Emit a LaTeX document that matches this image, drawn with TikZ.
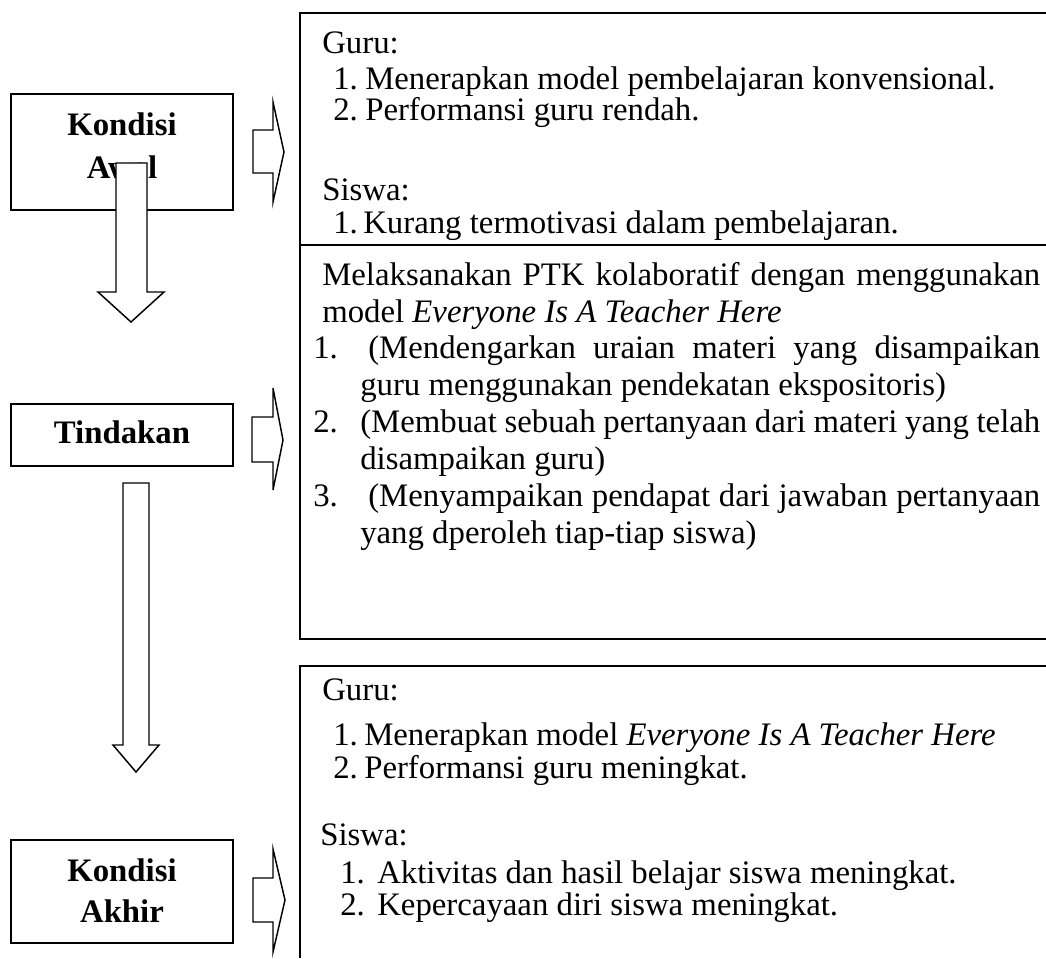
\documentclass[tikz,border=0pt]{standalone}
\usepackage{fontspec}
\setmainfont{Liberation Serif}
\newcommand{\fsz}{\fontsize{24.6}{28.3}\selectfont}
\begin{document}
\begin{tikzpicture}[x=0.75pt,y=-0.75pt,
  line/.style={line width=1.4pt},
  blockarrow/.style={draw, line width=1.1pt, fill=white, line join=miter},
  lbox/.style={draw, line width=1.4pt, inner sep=0pt, rectangle},
  ltext/.style={font=\fsz\bfseries, inner sep=0pt, anchor=base},
  txt/.style={font=\fsz, inner sep=0pt, anchor=base west}]
\useasboundingbox (0,0) rectangle (1046,958);

% left boxes
\node[lbox, minimum width=166.5pt, minimum height=87pt] (awal) at (122,152) {};
\node[lbox, minimum width=166.5pt, minimum height=46.5pt] (tindakan) at (122,435) {};
\node[lbox, minimum width=166.5pt, minimum height=77.25pt] (akhir) at (122,891.5) {};
\node[ltext] (awal1) at (122,135) {Kondisi};
\node[ltext] (awal2) at (122,178) {Awal};
\node[ltext] (tind1) at (122,443) {Tindakan};
\node[ltext] (akhir1) at (122,881) {Kondisi};
\node[ltext] (akhir2) at (122,922) {Akhir};

% down block arrows
\draw[blockarrow] (116,163) -- (147,163) -- (147,292) -- (164,292) -- (131,322) -- (98,292) -- (116,292) -- cycle;
\draw[blockarrow] (123,483) -- (149,483) -- (149,745) -- (159,745) -- (136,772) -- (113,745) -- (123,745) -- cycle;

% right block arrows
\draw[blockarrow] (253,130) -- (273,130) -- (273,102) -- (284,152) -- (273,202) -- (273,173) -- (253,173) -- cycle;
\draw[blockarrow] (252,417) -- (273,417) -- (273,388) -- (283,440) -- (273,490) -- (273,462) -- (252,462) -- cycle;
\draw[blockarrow] (253,878) -- (273,878) -- (273,849) -- (285,900) -- (273,952) -- (273,922) -- (253,922) -- cycle;

% right boxes (open on the right)
\coordinate (aTR) at (1046,13);
\coordinate (aTL) at (300,13);
\coordinate (abL) at (300,245);
\coordinate (abR) at (1046,245);
\coordinate (bBL) at (300,639);
\coordinate (bBR) at (1046,639);
\coordinate (cTR) at (1046,666);
\coordinate (cTL) at (300,666);
\coordinate (cBL) at (300,958);
\draw[line] (aTR) -- (aTL) -- (abL) -- (bBL) -- (bBR);
\draw[line] (abL) -- (abR);
\draw[line] (cTR) -- (cTL) -- (cBL);

% box A text
\node[txt] (ga) at (322,53) {Guru:};
\node[txt] (ga1n) at (333,89) {1.};
\node[txt] (ga1) at (365,89) {Menerapkan model pembelajaran konvensional.};
\node[txt] (ga2n) at (333,120) {2.};
\node[txt] (ga2) at (365,120) {Performansi guru rendah.};
\node[txt] (sa) at (322,200) {Siswa:};
\node[txt] (sa1n) at (333,233) {1.};
\node[txt] (sa1) at (363,233) {Kurang termotivasi dalam pembelajaran.};

% box B text
\node[txt] (b1) at (322,285) {\makebox[538.5pt][s]{Melaksanakan PTK kolaboratif dengan menggunakan}};
\node[txt] (b2) at (322,322) {model \textit{Everyone Is A Teacher Here}};
\node[txt] (b3n) at (313,358) {1.};
\node[txt] (b3) at (368,358) {\makebox[504pt][s]{(Mendengarkan uraian materi yang disampaikan}};
\node[txt] (b4) at (360,395) {guru menggunakan pendekatan ekspositoris)};
\node[txt] (b5n) at (313,432) {2.};
\node[txt] (b5) at (360,432) {\makebox[510pt][s]{(Membuat sebuah pertanyaan dari materi yang telah}};
\node[txt] (b6) at (360,469) {disampaikan guru)};
\node[txt] (b7n) at (313,506) {3.};
\node[txt] (b7) at (368,506) {\makebox[504pt][s]{(Menyampaikan pendapat dari jawaban pertanyaan}};
\node[txt] (b8) at (360,543) {yang dperoleh tiap-tiap siswa)};

% box C text
\node[txt] (gc) at (322,700) {Guru:};
\node[txt] (gc1n) at (333,745) {1.};
\node[txt] (gc1) at (364,745) {Menerapkan model \textit{Everyone Is A Teacher Here}};
\node[txt] (gc2n) at (333,778) {2.};
\node[txt] (gc2) at (364,778) {Performansi guru meningkat.};
\node[txt] (sc) at (320,845) {Siswa:};
\node[txt] (sc1n) at (340,883) {1.};
\node[txt] (sc1) at (377,883) {Aktivitas dan hasil belajar siswa meningkat.};
\node[txt] (sc2n) at (340,915) {2.};
\node[txt] (sc2) at (377,915) {Kepercayaan diri siswa meningkat.};
\end{tikzpicture}
\end{document}
